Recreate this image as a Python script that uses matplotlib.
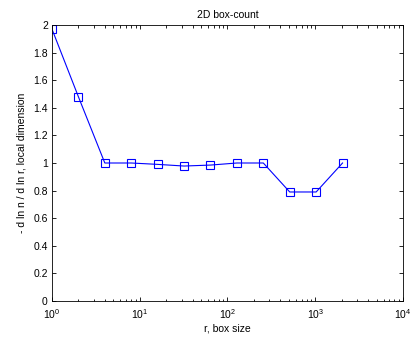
import matplotlib
matplotlib.use("Agg")
import matplotlib.pyplot as plt
import numpy as np

plt.rcParams['font.family'] = ['Liberation Sans', 'DejaVu Sans']
plt.rcParams['font.size'] = 7.5

r = [1, 2, 4, 8, 16, 32, 64, 128, 256, 512, 1024, 2048]
dim = [1.97, 1.48, 1.0, 1.0, 0.99, 0.978, 0.985, 1.0, 1.0, 0.79, 0.79, 1.0]

fig = plt.figure(figsize=(4.11, 3.38), dpi=100)
ax = fig.add_axes([0.1265, 0.1095, 0.854, 0.8165])
ax.plot(r, dim, color='#0000ff', lw=0.8, marker='s', markersize=5.5,
        markerfacecolor='none', markeredgecolor='#0000ff', markeredgewidth=0.8)
ax.set_xscale('log')
ax.set_xlim(1, 1e4)
ax.set_ylim(0, 2)
ax.set_yticks(np.arange(0, 2.01, 0.2))
ax.set_yticklabels(['0', '0.2', '0.4', '0.6', '0.8', '1', '1.2', '1.4', '1.6', '1.8', '2'])
ax.tick_params(which='both', direction='in', top=True, right=True)
ax.tick_params(axis='y', pad=3)
ax.tick_params(axis='x', pad=4.5)
ax.tick_params(which='major', length=3, width=0.6)
ax.tick_params(which='minor', length=1.8, width=0.6)
for s in ax.spines.values():
    s.set_linewidth(0.6)
ax.set_title('2D box-count', fontsize=7.5, pad=5)
ax.set_xlabel('r, box size', labelpad=2)
ax.set_ylabel('- d ln n / d ln r, local dimension', labelpad=5)
fig.savefig('out.png', dpi=100)
